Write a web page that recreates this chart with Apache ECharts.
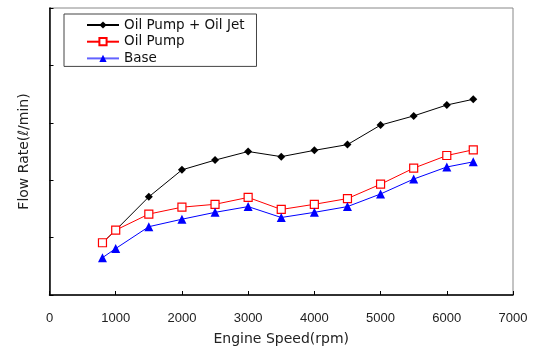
<!DOCTYPE html>
<html><head><meta charset="utf-8">
<script src="https://cdn.jsdelivr.net/npm/echarts@6/dist/echarts.min.js"></script>
<style>html,body{margin:0;padding:0;background:#fff}#c{width:537px;height:348px}</style>
</head><body><div id="c"></div>
<script>
const speeds = [800, 1000, 1500, 2000, 2500, 3000, 3500, 4000, 4500, 5000, 5500, 6000, 6400];
const oilPumpJet = [0.91, 1.13, 1.71, 2.18, 2.35, 2.50, 2.41, 2.52, 2.62, 2.96, 3.12, 3.31, 3.41];
const oilPump = [0.91, 1.13, 1.41, 1.53, 1.58, 1.70, 1.49, 1.58, 1.68, 1.93, 2.21, 2.43, 2.53];
const base = [0.65, 0.81, 1.19, 1.32, 1.44, 1.54, 1.35, 1.44, 1.54, 1.76, 2.02, 2.23, 2.32];
const seriesNames = ['Oil Pump + Oil Jet', 'Oil Pump', 'Base'];
const xTitle = 'Engine Speed(rpm)';
const yTitle = 'Flow Rate(ℓ/min)';

const pair = arr => speeds.map((s, i) => [s, arr[i]]);
const font = 'DejaVu Sans';
const chart = echarts.init(document.getElementById('c'), null, {renderer: 'canvas'});
chart.setOption({
  animation: false,
  backgroundColor: '#fff',
  grid: {left: 49.5, right: 24, top: 8, bottom: 53, show: true, borderColor: '#888', borderWidth: 1,
         containLabel: false, outerBoundsMode: 'none'},
  legend: {
    left: 64, top: 14, orient: 'vertical',
    data: [
      {name: seriesNames[0]},
      {name: seriesNames[1]},
      {name: seriesNames[2], lineStyle: {color: '#6262ff'}, itemStyle: {color: '#00f', borderColor: '#00f'}}
    ],
    itemWidth: 32, itemHeight: 9, itemGap: 2.7,
    padding: [4, 12, 1, 22],
    borderColor: '#444', borderWidth: 1,
    textStyle: {fontFamily: font, fontSize: 13.5, color: '#111', lineHeight: 14}
  },
  xAxis: {
    type: 'value', min: 0, max: 7000, interval: 1000,
    name: xTitle, nameLocation: 'middle', nameGap: 37,
    nameTextStyle: {fontFamily: font, fontSize: 14, color: '#222'},
    axisLine: {lineStyle: {color: '#000', width: 1.5}},
    axisTick: {inside: true, length: 4, lineStyle: {color: '#000'}},
    axisLabel: {fontFamily: 'Liberation Sans', fontSize: 13, color: '#222', margin: 17,
                formatter: v => String(v)},
    splitLine: {show: false}
  },
  yAxis: {
    type: 'value', min: 0, max: 5, interval: 1,
    name: yTitle, nameLocation: 'middle', nameGap: 18, nameRotate: 90,
    nameTextStyle: {fontFamily: font, fontSize: 14, color: '#222'},
    axisLine: {show: true, lineStyle: {color: '#000', width: 1.5}},
    axisTick: {show: true, inside: true, length: 4, lineStyle: {color: '#000'}},
    axisLabel: {show: false},
    splitLine: {show: false}
  },
  series: [
    {name: seriesNames[0], type: 'line', data: pair(oilPumpJet), symbol: 'diamond', symbolSize: 8,
     itemStyle: {color: '#000'}, lineStyle: {color: '#000', width: 1}},
    {name: seriesNames[1], type: 'line', data: pair(oilPump), symbol: 'rect', symbolSize: 8,
     itemStyle: {color: '#fff', borderColor: '#f00', borderWidth: 1.2}, lineStyle: {color: '#f00', width: 1}},
    {name: seriesNames[2], type: 'line', data: pair(base), symbol: 'triangle', symbolSize: 9,
     itemStyle: {color: '#00f'}, lineStyle: {color: '#00f', width: 1}}
  ]
});
</script></body></html>
